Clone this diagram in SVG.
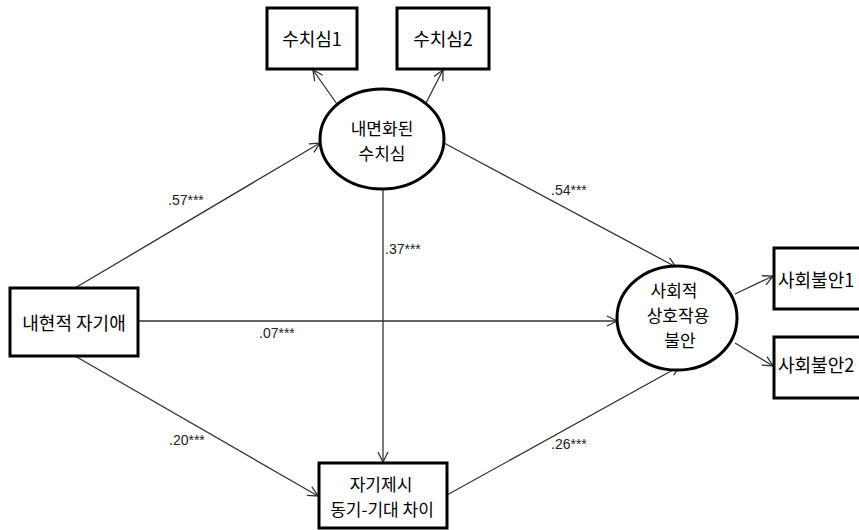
<svg xmlns="http://www.w3.org/2000/svg" width="859" height="530" viewBox="0 0 859 530">
<style>
.box{fill:#fff;stroke:#000;stroke-width:3}
.ell{fill:#fff;stroke:#000;stroke-width:3}
.t{font-family:"Noto Sans CJK KR","Noto Sans",sans-serif;font-size:18px;fill:#000}
.t2{font-family:"Noto Sans CJK KR","Noto Sans",sans-serif;font-size:17px;fill:#000}
.lb{font-family:"Liberation Sans","DejaVu Sans",sans-serif;font-size:14px;fill:#222}
.c line{stroke:#333;stroke-width:1.3;marker-end:url(#a)}
</style>
<defs>
<marker id="a" markerUnits="userSpaceOnUse" markerWidth="14" markerHeight="14" viewBox="-12 -7 14 14" refX="0" refY="0" orient="auto">
<path d="M-10,-5 L0,0 L-10,5" fill="none" stroke="#333" stroke-width="1.3"/>
</marker>
</defs>
<rect width="859" height="530" fill="#fff"/>
<g class="c" id="connectors">
<line x1="337" y1="104" x2="313" y2="70"/>
<line x1="426" y1="103" x2="443" y2="70"/>
<line x1="75" y1="288" x2="320" y2="143"/>
<line x1="444" y1="143" x2="676" y2="267"/>
<line x1="383" y1="189" x2="383" y2="462"/>
<line x1="138" y1="321" x2="617" y2="321"/>
<line x1="75" y1="356" x2="318" y2="496"/>
<line x1="447" y1="495" x2="680" y2="366"/>
<line x1="735" y1="294" x2="773" y2="276"/>
<line x1="735" y1="343" x2="773" y2="366"/>
</g>
<g id="labels">
<text class="lb" x="168" y="205">.57***</text>
<text class="lb" x="385" y="254">.37***</text>
<text class="lb" x="259" y="338">.07***</text>
<text class="lb" x="169" y="445">.20***</text>
<text class="lb" x="551" y="195">.54***</text>
<text class="lb" x="551" y="449">.26***</text>
</g>
<g id="n_shame1"><rect class="box" x="267" y="8" width="90" height="61"/><text class="t" x="312" y="46" text-anchor="middle">수치심1</text></g>
<g id="n_shame2"><rect class="box" x="397" y="8" width="92" height="61"/><text class="t" x="443" y="46" text-anchor="middle">수치심2</text></g>
<g id="n_internal"><ellipse class="ell" cx="382" cy="139" rx="62" ry="50"/><text class="t2" x="382" y="135" text-anchor="middle">내면화된</text><text class="t2" x="382" y="160" text-anchor="middle">수치심</text></g>
<g id="n_covert"><rect class="box" x="10" y="288" width="128" height="68"/><text class="t" x="74" y="330" text-anchor="middle">내현적 자기애</text></g>
<g id="n_social"><ellipse class="ell" cx="677" cy="318" rx="60" ry="52"/><text class="t2" x="674" y="297" text-anchor="middle">사회적</text><text class="t2" x="678" y="322" text-anchor="middle">상호작용</text><text class="t2" x="680" y="347" text-anchor="middle">불안</text></g>
<g id="n_sa1"><rect class="box" x="774" y="248" width="100" height="61"/><text class="t" x="778" y="287">사회불안1</text></g>
<g id="n_sa2"><rect class="box" x="774" y="337" width="100" height="61"/><text class="t" x="778" y="372">사회불안2</text></g>
<g id="n_selfpres"><rect class="box" x="319" y="463" width="128" height="65"/><text class="t2" x="381" y="491" text-anchor="middle">자기제시</text><text class="t2" x="382" y="516" text-anchor="middle">동기-기대 차이</text></g>
</svg>
